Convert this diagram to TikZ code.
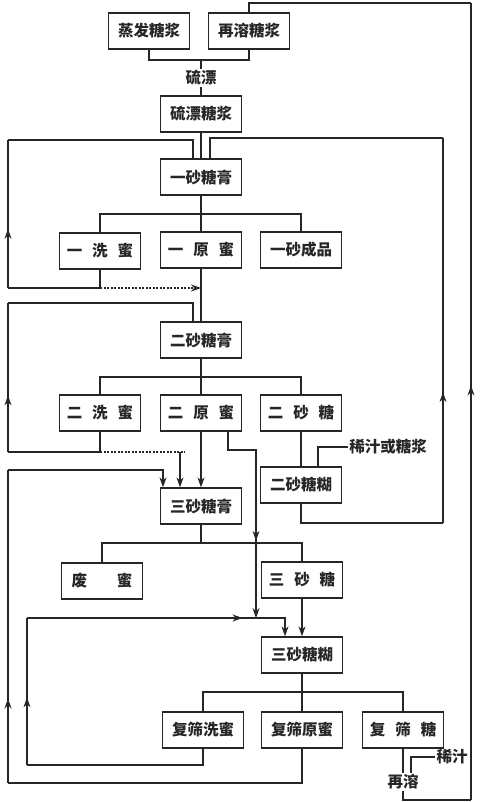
\documentclass[tikz,border=0pt]{standalone}
\usepackage{fontspec}
\setmainfont{Noto Sans CJK SC}
\usepackage{xcolor}
\definecolor{ink}{gray}{0.15}
\usetikzlibrary{arrows.meta}
\usetikzlibrary{decorations.markings}
\newcommand{\gp}{\hspace{10pt}}
\tikzset{
  every node/.style={
    text=ink, font=\fontsize{15.5}{18}\selectfont\bfseries
  },
  box/.style={draw=ink, line width=1.3pt, minimum width=81pt, minimum height=36pt, inner sep=0pt},
  lab/.style={inner sep=1pt},
  dotline/.style={dash pattern=on 2pt off 1.5pt},
  midarrow/.style={postaction={decorate, decoration={markings, mark=at position #1 with {\arrow{Stealth[length=10pt,width=7pt]}}}}}
}

\begin{document}
\begin{tikzpicture}[x=1pt, y=-1pt, line width=1.1pt, draw=ink, >={Stealth[length=10pt,width=7pt]}]
    \useasboundingbox (0,0) rectangle (480,802);

    \node[box] (zf) at (149,31) {蒸发糖浆};
    \node[box] (zr) at (249,31) {再溶糖浆};
    \node[lab] (lp) at (201,78) {硫漂};
    \node[box] (lpt) at (201,114) {硫漂糖浆};
    \node[box] (ys1) at (201,177) {一砂糖膏};
    \node[box] (yx) at (100,251) {一\gp 洗\gp 蜜};
    \node[box] (yy) at (201,250) {一\gp 原\gp 蜜};
    \node[box] (yc) at (301,250) {一砂成品};
    \node[box] (es2) at (201,340) {二砂糖膏};
    \node[box] (ex) at (100,413) {二\gp 洗\gp 蜜};
    \node[box] (ey) at (201,413) {二\gp 原\gp 蜜};
    \node[box] (et) at (301,413) {二\gp 砂\gp 糖};
    \node[box] (eh) at (301,485) {二砂糖糊};
    \node[lab] (xj) at (388,447) {稀汁或糖浆};
    \node[box] (ss3) at (201,506) {三砂糖膏};
    \node[box] (fm) at (102,581) {废\hspace{30pt}蜜};
    \node[box] (st) at (302,580) {三\gp 砂\gp 糖};
    \node[box] (sh) at (302,655) {三砂糖糊};
    \node[box] (fx) at (203,730) {复筛洗蜜};
    \node[box] (fy) at (302,730) {复筛原蜜};
    \node[box] (ft) at (403,730) {复\gp 筛\gp 糖};
    \node[lab] (xz) at (452,757) {稀汁};
    \node[lab] (rr) at (403,782) {再溶};

    % main line
    \coordinate (m0) at (201,60);
    \draw (zf.south) |- (m0) -| (zr.south);
    \draw (m0) -- (lp.north);
    \draw (lp.south) -- (lpt.north);
    \draw (lpt.south) -- (ys1.north);

    \coordinate (b1) at (201,214);
    \draw (ys1.south) -- (b1);
    \draw (yx.north) |- (b1) -| (yc.north);
    \draw (b1) -- (yy.north);
    \draw (yy.south) -- (es2.north);

    \coordinate (b2) at (201,377);
    \draw (es2.south) -- (b2);
    \draw (ex.north) |- (b2) -| (et.north);
    \draw (b2) -- (ey.north);
    \draw [->] (ey.south) -- (ss3.north);

    \coordinate (b3) at (201,543);
    \draw (ss3.south) -- (b3);
    \draw (fm.north) |- (b3) -| (st.north);
    \draw [->] (st.south) -- (sh.north);

    \coordinate (b4) at (302,692);
    \draw (sh.south) -- (b4);
    \draw (fx.north) |- (b4) -| (ft.north);
    \draw (b4) -- (fy.north);

    % washings back
    \coordinate (l1a) at (8,288);
    \coordinate (l1b) at (8,140);
    \draw (yx.south) |- (l1a);
    \draw [midarrow=0.4] (l1a) -- (l1b);
    \draw (l1b) -| ([xshift=-8pt]ys1.north);
    \draw [dotline,->] (yx.south |- l1a) -- (yy.south |- l1a);

    \coordinate (l2a) at (8,452);
    \coordinate (l2b) at (8,303);
    \draw (ex.south) |- (l2a);
    \draw [midarrow=0.38] (l2a) -- (l2b);
    \draw (l2b) -| ([xshift=-8pt]es2.north);
    \coordinate (d2) at (185,452);
    \draw [dotline] (ex.south |- l2a) -- (d2);
    \draw [->] ([xshift=-21pt]ss3.north |- l2a) -- ([xshift=-21pt]ss3.north);

    \coordinate (c1) at (256,450);
    \coordinate (c2) at (256,618);
    \draw [midarrow=0.64,->] ([xshift=27pt]ey.south) |- (c1) -- (c2);

    \coordinate (r1) at (443,523);
    \coordinate (r2) at (443,138);
    \draw (eh.south) |- (r1);
    \draw [midarrow=0.34] (r1) -- (r2);
    \draw (r2) -| ([xshift=9pt]ys1.north);
    \draw (et.south) -- (eh.north);
    \draw (xj.west) -| ([xshift=17pt]eh.north);

    \coordinate (l3a) at (8,783);
    \coordinate (l3b) at (8,470);
    \draw (fy.south) |- (l3a);
    \draw [midarrow=0.27] (l3a) -- (l3b);
    \draw [->] (l3b) -| ([xshift=-38pt]ss3.north);

    \coordinate (l4a) at (27,765);
    \coordinate (l4b) at (27,618);
    \draw (fx.south) |- (l4a);
    \draw [midarrow=0.46] (l4a) -- (l4b);
    \draw [midarrow=0.78,->] (l4b) -| ([xshift=-17pt]sh.north);

    % remelt
    \coordinate (t1) at (471,800);
    \coordinate (t2) at (471,3);
    \draw (ft.south) -- (rr.north);
    \draw (xz.west) -| ([xshift=8pt]rr.north);
    \draw (rr.south) |- (t1);
    \draw [midarrow=0.52] (t1) -- (t2);
    \draw (t2) -| (zr.north);
\end{tikzpicture}
\end{document}
